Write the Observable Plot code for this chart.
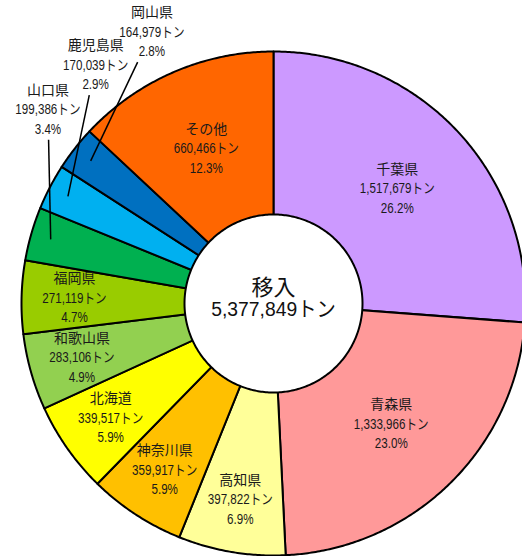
<!DOCTYPE html>
<html><head><meta charset="utf-8">
<script src="https://cdn.jsdelivr.net/npm/d3@7"></script>
<script src="https://cdn.jsdelivr.net/npm/@observablehq/plot@0.6"></script>
<style>
html,body{margin:0;padding:0;background:#fff;}
svg{display:block;}
</style></head><body><div id="chart"></div>
<script>
// ---- data ----
const names = ["千葉県","青森県","高知県","神奈川県","北海道","和歌山県","福岡県","山口県","鹿児島県","岡山県","その他"];
const tons = [1517679, 1333966, 397822, 359917, 339517, 283106, 271119, 199386, 170039, 164979, 660466];
const pctLabels = [26.2, 23.0, 6.9, 5.9, 5.9, 4.9, 4.7, 3.4, 2.9, 2.8, 12.3];
// slice sizes as drawn (その他's wedge is drawn larger than its label, ~755,000 by its angle)
const sliceValues = [1517679, 1333966, 397822, 359917, 339517, 283106, 271119, 199386, 170039, 164979, 755000];
const colors = ["#CC99FF","#FF9999","#FFFF99","#FFC000","#FFFF00","#92D050","#99CC00","#00B050","#00B0F0","#0070C0","#FF6600"];
const outsideLabeled = ["山口県","鹿児島県","岡山県"];
const centerTitle = "移入";
const centerTotal = 5377849;

// ---- layout ----
const W = 522, H = 556, cx = 273, cy = 303, R = 252;
const innerR = 89 / R;
const fmt = d3.format(",");
const cjk = '"Noto Sans CJK JP",sans-serif';
const num = '"Liberation Sans",Arial,"Noto Sans CJK JP",sans-serif';
const deg = Math.PI / 180;

const arcs = d3.pie().sort(null).value(d => d)(sliceValues);
const pt = (a, r) => ({x: r * Math.sin(a), y: r * Math.cos(a)});

const wedges = [];
arcs.forEach((a, i) => {
  const n = Math.max(2, Math.ceil((a.endAngle - a.startAngle) / 0.008));
  wedges.push({name: names[i], ...pt(0, 0)});
  for (let k = 0; k <= n; k++) {
    wedges.push({name: names[i], ...pt(a.startAngle + (a.endAngle - a.startAngle) * k / n, 1)});
  }
  wedges.push({name: names[i], ...pt(0, 0)});
});

const ring = d3.range(0, 361).map(k => pt(k * deg, innerR));

const labels = [], leaders = [];
let outStart = null, outCount = 0;
arcs.forEach((a, i) => {
  const mid = (a.startAngle + a.endAngle) / 2;
  const share = (a.endAngle - a.startAngle) / (2 * Math.PI);
  const base = {name: names[i], amount: `${fmt(tons[i])}トン`, pct: `${pctLabels[i].toFixed(1)}%`};
  if (outsideLabeled.includes(names[i])) {
    // outside labels: evenly spaced around an outer ring, with a leader into the slice
    if (outStart === null) outStart = mid + 24.6 * deg;
    const p = pt(outStart + outCount * 12.6 * deg, 1.18);
    outCount++;
    const e = pt(mid, 0.92);
    const f = (30 / R) / (p.y - e.y);
    labels.push({...base, ...p});
    leaders.push({x1: p.x + (e.x - p.x) * f, y1: p.y + (e.y - p.y) * f, x2: e.x, y2: e.y});
  } else {
    labels.push({...base, ...pt(mid, share > 0.1 ? 0.67 : 0.79)});
  }
});

const chart = Plot.plot({
  width: W, height: H, margin: 0,
  style: {background: "#fff"},
  x: {domain: [-cx / R, (W - cx) / R], range: [0, W], axis: null},
  y: {domain: [(cy - H) / R, cy / R], range: [H, 0], axis: null},
  color: {domain: names, range: colors},
  marks: [
    Plot.line(wedges, {x: "x", y: "y", z: "name", fill: "name", stroke: "black", strokeWidth: 2, strokeLinejoin: "round"}),
    Plot.line(ring, {x: "x", y: "y", fill: "white", stroke: "black", strokeWidth: 2}),
    Plot.link(leaders, {x1: "x1", y1: "y1", x2: "x2", y2: "y2", stroke: "black", strokeWidth: 1.5}),
    Plot.text(labels, {x: "x", y: "y", text: "name", dy: -19.5, fontSize: 14, fill: "#1a1a1a", fontFamily: cjk}),
    Plot.text(labels, {x: "x", y: "y", text: "amount", fontSize: 14, fill: "#1a1a1a", fontFamily: num, className: "narrow"}),
    Plot.text(labels, {x: "x", y: "y", text: "pct", dy: 19.5, fontSize: 14, fill: "#1a1a1a", fontFamily: num, className: "narrow"}),
    Plot.text([{x: 0, y: 0}], {x: "x", y: "y", text: () => centerTitle, dy: -16, fontSize: 22, fill: "#111", fontFamily: cjk}),
    Plot.text([{x: 0, y: 0}], {x: "x", y: "y", text: () => `${fmt(centerTotal)}トン`, dy: 6, fontSize: 21, fill: "#111", fontFamily: num, className: "narrow2"})
  ]
});
function squeeze(sel, s) {
  chart.querySelectorAll(sel).forEach(t => {
    let tr = t.getAttribute("transform");
    if (!tr) {
      const x = t.getAttribute("x") || 0, y = t.getAttribute("y") || 0;
      t.removeAttribute("x"); t.removeAttribute("y");
      tr = `translate(${x},${y})`;
    }
    t.setAttribute("transform", `${tr} scale(${s},1)`);
  });
}
squeeze("g.narrow text", 0.83);
squeeze("g.narrow2 text", 0.92);
document.getElementById("chart").appendChild(chart);
</script>
</body></html>
